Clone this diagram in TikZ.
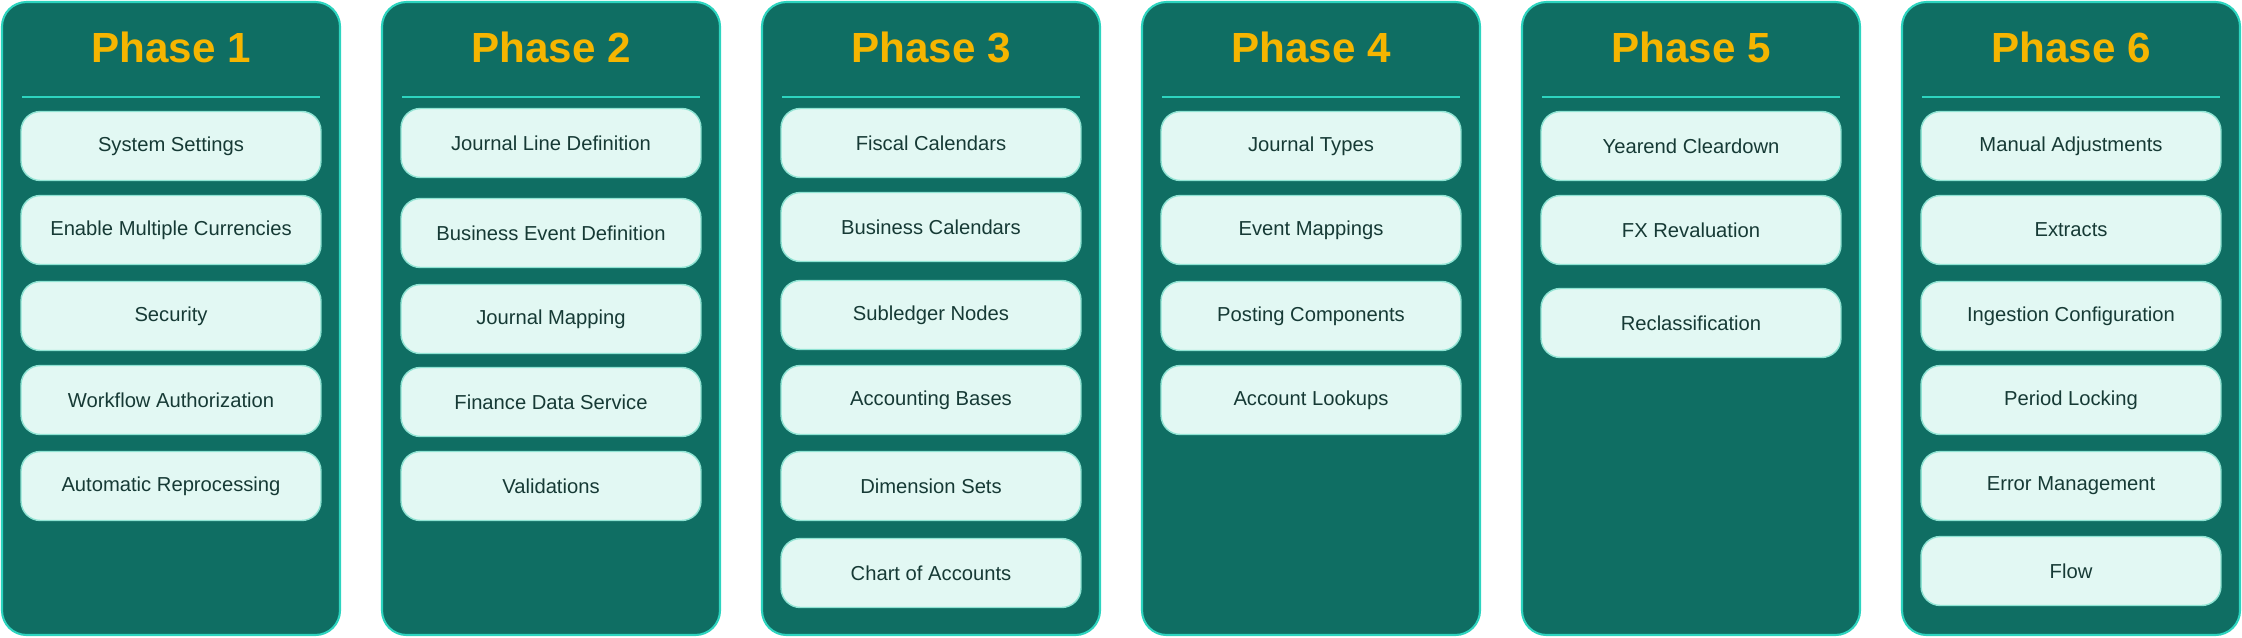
\documentclass[tikz,border=0pt]{standalone}
\usepackage{fontspec}
\setmainfont{Liberation Sans}
\definecolor{colfill}{HTML}{0F6E63}
\definecolor{colline}{HTML}{2DD4BF}
\definecolor{boxfill}{HTML}{E2F8F3}
\definecolor{boxline}{HTML}{8FE3D3}
\definecolor{titlecol}{HTML}{F5B500}
\definecolor{textcol}{HTML}{163A35}
\tikzset{
  phase/.style={draw=colline, fill=colfill, line width=1.2pt, rounded corners=14pt},
  task/.style={draw=boxline, fill=boxfill, line width=0.8pt, rounded corners=11pt,
    minimum width=6cm, minimum height=1.38cm, text=textcol, font=\fontsize{11.5}{13}\selectfont},
  phasetitle/.style={text=titlecol, font=\bfseries\fontsize{24}{28}\selectfont}
}
\begin{document}
\begin{tikzpicture}[x=0.02cm, y=-0.02cm]
\useasboundingbox (0,0) rectangle (2242,637);
% columns: index / x of left edge
\foreach \i/\x in {1/2, 2/382, 3/762, 4/1142, 5/1522, 6/1902}{
  \draw[phase] (\x,2) rectangle ++(338,633);
  \node[phasetitle] (title\i) at (\x+169,47) {Phase \i};
  \draw[colline, line width=0.8pt] (\x+20,97) -- (\x+318,97);
}
% phase 1
\foreach \n/\y/\t in {1/146/System Settings, 2/230/Enable Multiple Currencies, 3/316/Security,
  4/400/Workflow Authorization, 5/486/Automatic Reprocessing}
  \node[task] (p1s\n) at (171,\y) {\t};
% phase 2
\foreach \n/\y/\t in {1/143/Journal Line Definition, 2/233/Business Event Definition, 3/319/Journal Mapping,
  4/402/Finance Data Service, 5/486/Validations}
  \node[task] (p2s\n) at (551,\y) {\t};
% phase 3
\foreach \n/\y/\t in {1/143/Fiscal Calendars, 2/227/Business Calendars, 3/315/Subledger Nodes,
  4/400/Accounting Bases, 5/486/Dimension Sets, 6/573/Chart of Accounts}
  \node[task] (p3s\n) at (931,\y) {\t};
% phase 4
\foreach \n/\y/\t in {1/146/Journal Types, 2/230/Event Mappings, 3/316/Posting Components,
  4/400/Account Lookups}
  \node[task] (p4s\n) at (1311,\y) {\t};
% phase 5
\foreach \n/\y/\t in {1/146/Yearend Cleardown, 2/230/FX Revaluation, 3/323/Reclassification}
  \node[task] (p5s\n) at (1691,\y) {\t};
% phase 6
\foreach \n/\y/\t in {1/146/Manual Adjustments, 2/230/Extracts, 3/316/Ingestion Configuration,
  4/400/Period Locking, 5/486/Error Management, 6/571/Flow}
  \node[task] (p6s\n) at (2071,\y) {\t};
\end{tikzpicture}
\end{document}
